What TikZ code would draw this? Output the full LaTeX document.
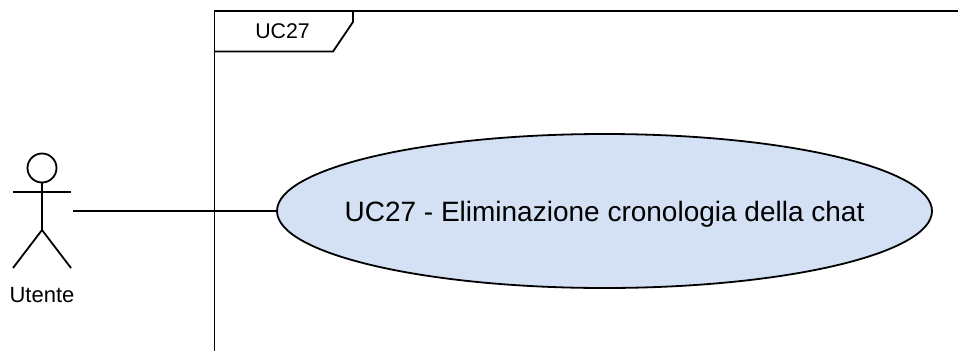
\documentclass[tikz,border=0pt]{standalone}
\usepackage{fontspec}
\setmainfont{Liberation Sans}
\usetikzlibrary{shapes.geometric}
\definecolor{ucfill}{HTML}{D4E1F5}
\tikzset{
  ln/.style={draw=black,line width=1.8pt},
  usecase/.style={ellipse,ln,fill=ucfill,minimum width=655pt,minimum height=154pt,inner sep=0pt,outer sep=0pt},
  lbl/.style={inner sep=0pt,outer sep=0pt,text=black,anchor=base}
}
\begin{document}
\begin{tikzpicture}[x=1pt,y=-1pt]
\useasboundingbox (0,0) rectangle (958,351);
% frame
\draw[ln] (958,11) -- (214.5,11) -- (214.5,351);
\draw[ln] (214.5,51.5) -- (333,51.5) -- (353,22) -- (353,11);
\node[lbl] (title) at (282.5,38.5) {\fontsize{21.3}{22}\selectfont UC27};
% actor
\node[circle,ln,minimum size=29pt,inner sep=0pt,outer sep=0pt] (head) at (42,168) {};
\coordinate (hip) at (42,230);
\coordinate (armL) at (13,192);
\coordinate (armR) at (71,192);
\coordinate (footL) at (13,268);
\coordinate (footR) at (71,268);
\draw[ln] (head.south) -- (hip);
\draw[ln] (armL) -- (armR);
\draw[ln] (footL) -- (hip) -- (footR);
\node[lbl] (actorlabel) at (42,302) {\fontsize{22}{22}\selectfont Utente};
% use case
\node[usecase] (uc) at (604.5,211) {};
\node[lbl] (uclabel) at (604.5,221) {\fontsize{28}{28}\selectfont UC27 - Eliminazione cronologia della chat};
\coordinate (actorport) at (73,211);
\draw[ln] (actorport) -- (uc.west);
\end{tikzpicture}
\end{document}
